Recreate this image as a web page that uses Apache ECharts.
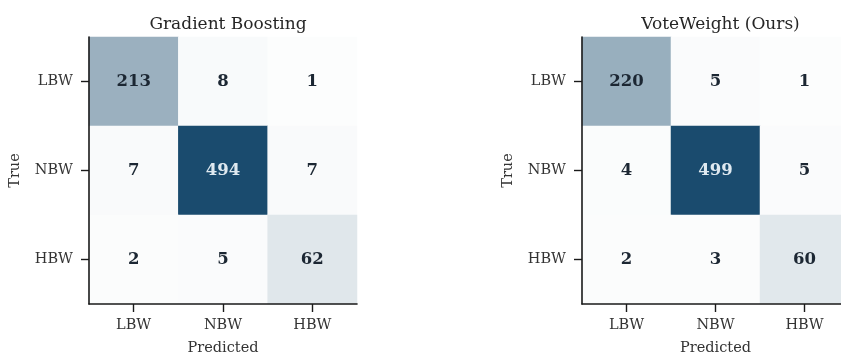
<!DOCTYPE html>
<html>
<head>
<meta charset="utf-8">
<script src="https://cdn.jsdelivr.net/npm/echarts@6/dist/echarts.min.js"></script>
<style>
  html, body { margin: 0; padding: 0; background: #fff; overflow: hidden; }
  #chart { width: 860px; height: 356px; }
</style>
</head>
<body>
<div id="chart"></div>
<script>
// Class labels (rows = true class, columns = predicted class)
const classes = ['LBW', 'NBW', 'HBW'];

// Confusion matrix counts, row-major: [true][predicted]
const gradientBoosting = [
  [213, 8, 1],
  [7, 494, 7],
  [2, 5, 62]
];
const voteWeight = [
  [220, 5, 1],
  [4, 499, 5],
  [2, 3, 60]
];

const titles = ['Gradient Boosting', 'VoteWeight (Ours)'];

const FONT = '"DejaVu Serif", serif';
const LOW = '#fcfdfd';
const HIGH = '#1a4b6e';

function toCells(matrix) {
  const out = [];
  matrix.forEach((row, r) => row.forEach((v, c) => out.push([c, r, v])));
  return out;
}
function maxOf(matrix) {
  return Math.max(...matrix.flat());
}

const matrices = [gradientBoosting, voteWeight];
// The right panel runs slightly past the visible page edge
const grids = [
  { left: 89, top: 37, width: 268, height: 267, outerBoundsMode: 'none', containLabel: false },
  { left: 582, top: 37, width: 267, height: 267, outerBoundsMode: 'none', containLabel: false }
];

const axisLine = { show: true, lineStyle: { color: '#1a1a1a', width: 1.6 } };
const axisTick = { show: true, alignWithLabel: true, length: 8, lineStyle: { color: '#1a1a1a', width: 1.4 } };

const option = {
  backgroundColor: '#ffffff',
  animation: false,
  title: titles.map((t, i) => ({
    text: t,
    left: grids[i].left + grids[i].width / 2,
    textAlign: 'center',
    top: 11,
    textStyle: { fontFamily: FONT, fontSize: 17, fontWeight: 'normal', color: '#262626' }
  })),
  grid: grids,
  xAxis: grids.map((g, i) => ({
    type: 'category',
    gridIndex: i,
    data: classes,
    z: 10,
    name: 'Predicted',
    nameLocation: 'middle',
    nameGap: 37,
    nameTextStyle: { fontFamily: FONT, fontSize: 14.5, color: '#333' },
    axisLine,
    axisTick,
    axisLabel: { fontFamily: FONT, fontSize: 14.5, color: '#333', margin: 14 },
    splitLine: { show: false },
    splitArea: { show: false }
  })),
  yAxis: grids.map((g, i) => ({
    type: 'category',
    gridIndex: i,
    data: classes,
    inverse: true,
    z: 10,
    name: 'True',
    nameLocation: 'middle',
    nameGap: 66,
    nameTextStyle: { fontFamily: FONT, fontSize: 14.5, color: '#333' },
    axisLine,
    axisTick,
    axisLabel: { fontFamily: FONT, fontSize: 14.5, color: '#333', margin: 16 },
    splitLine: { show: false },
    splitArea: { show: false }
  })),
  visualMap: matrices.map((m, i) => ({
    type: 'continuous',
    seriesIndex: i,
    min: 0,
    max: maxOf(m),
    show: false,
    inRange: { color: [LOW, HIGH] }
  })),
  series: matrices.map((m, i) => {
    const mx = maxOf(m);
    return {
      type: 'heatmap',
      xAxisIndex: i,
      yAxisIndex: i,
      // light text on dark cells, dark text elsewhere
      data: toCells(m).map(d => ({
        value: d,
        label: { color: d[2] / mx > 0.6 ? '#dfe9f0' : '#1c2733' }
      })),
      itemStyle: { borderWidth: 0 },
      label: {
        show: true,
        fontFamily: FONT,
        fontSize: 16.5,
        fontWeight: 'bold',
        formatter: p => String(p.value[2])
      },
      emphasis: { disabled: true },
      z: 1
    };
  })
};

const chart = echarts.init(document.getElementById('chart'), null, { renderer: 'canvas' });
chart.setOption(option);
</script>
</body>
</html>
